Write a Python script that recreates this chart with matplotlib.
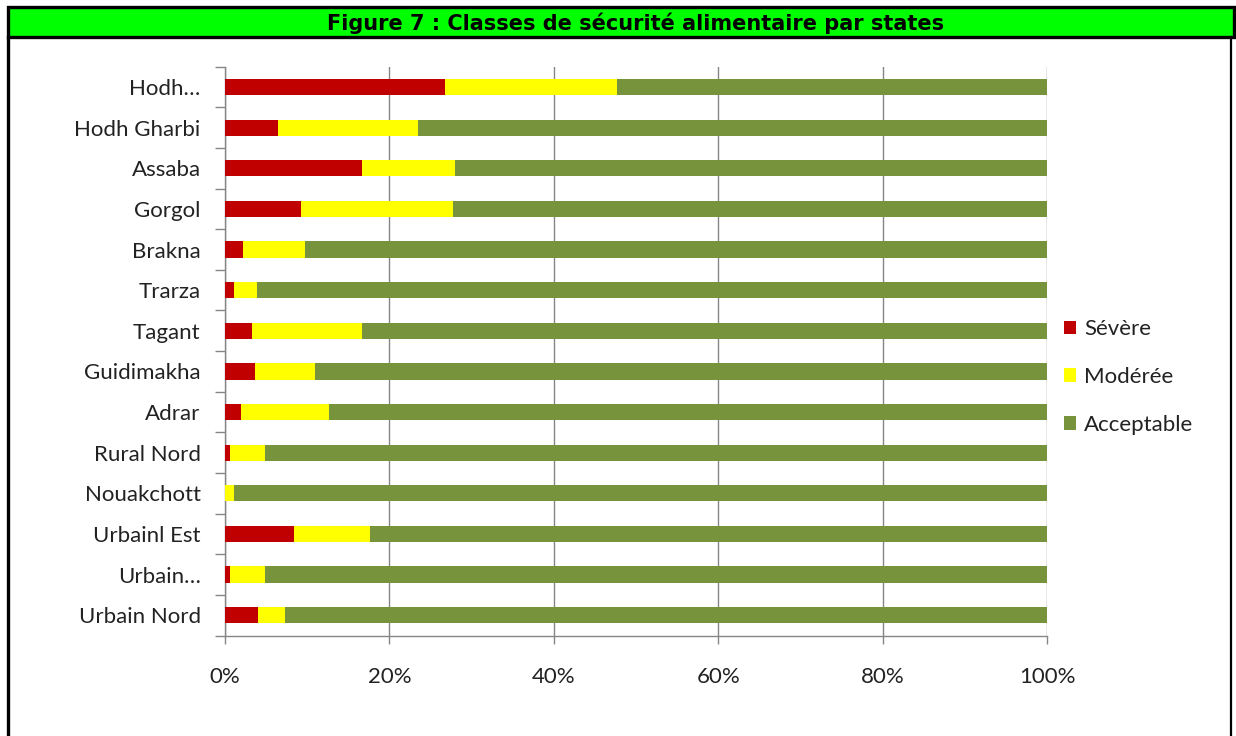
import numpy as np
import matplotlib
matplotlib.use("Agg")
import matplotlib.pyplot as plt
from matplotlib.patches import Rectangle
from matplotlib.lines import Line2D
from matplotlib.ticker import FixedLocator

plt.rcParams['font.family'] = ['Lato', 'DejaVu Sans']

# data (percent), top to bottom as in the chart
states = ["Hodh…", "Hodh Gharbi", "Assaba", "Gorgol", "Brakna", "Trarza", "Tagant",
          "Guidimakha", "Adrar", "Rural Nord", "Nouakchott", "Urbainl Est",
          "Urbain…", "Urbain Nord"]
severe = [26.8, 6.4, 16.7, 9.2, 2.2, 1.1, 3.3, 3.7, 1.9, 0.6, 0.0, 8.4, 0.6, 4.0]
moderee = [20.9, 17.1, 11.3, 18.5, 7.5, 2.8, 13.4, 7.3, 10.7, 4.3, 1.1, 9.2, 4.3, 3.3]
acceptable = [100 - s - m for s, m in zip(severe, moderee)]

W, H = 1236, 736
fig = plt.figure(figsize=(W / 100, H / 100), dpi=100)

def fx(px):
    return px / W

def fy(py):
    return 1 - py / H

ax = fig.add_axes([fx(225), fy(635.5), fx(1047) - fx(225), fy(66.7) - fy(635.5)])

y = np.arange(len(states))
sev = np.array(severe)
mod = np.array(moderee)
acc = np.array(acceptable)
h = 0.4
ax.barh(y, sev, height=h, color="#C00000", label="Sévère", zorder=3)
ax.barh(y, mod, left=sev, height=h, color="#FFFF00", label="Modérée", zorder=3)
ax.barh(y, acc, left=sev + mod, height=h, color="#77933C", label="Acceptable", zorder=3)

ax.set_ylim(len(states) - 0.5, -0.5)
ax.set_xlim(0, 100)
ax.set_yticks(y)
ax.set_yticklabels(states, fontsize=16, color="#222222")
ax.yaxis.set_minor_locator(FixedLocator(np.arange(-0.5, len(states), 1)))
ax.tick_params(axis="y", which="major", length=0, pad=17.5)
ax.tick_params(axis="y", which="minor", length=7, color="#868686", width=1)

ax.set_xticks([0, 20, 40, 60, 80, 100])
ax.set_xticklabels(["0%", "20%", "40%", "60%", "80%", "100%"], fontsize=16, color="#222222")
ax.tick_params(axis="x", length=6, color="#868686", width=1, pad=17)
ax.grid(axis="x", color="#868686", lw=1, zorder=0)

for s in ["top", "right"]:
    ax.spines[s].set_visible(False)
for s in ["left", "bottom"]:
    ax.spines[s].set_color("#868686")
    ax.spines[s].set_linewidth(1)

leg = ax.legend(loc="center left", bbox_to_anchor=(fx(1044), fy(377)),
                bbox_transform=fig.transFigure, frameon=False, fontsize=16,
                handlelength=0.55, handleheight=0.55, handletextpad=0.35,
                labelspacing=1.25)
for t in leg.get_texts():
    t.set_color("#222222")

# title bar and frame
fig.add_artist(Rectangle((fx(7.5), fy(37)), fx(1234) - fx(7.5), fy(7.5) - fy(37),
                         transform=fig.transFigure, facecolor="#00FF00",
                         edgecolor="black", lw=2.4))
fig.add_artist(Line2D([fx(8), fx(8)], [fy(37), 0], transform=fig.transFigure,
                      color="black", lw=2.4))
fig.add_artist(Line2D([fx(1231), fx(1231)], [fy(37), 0], transform=fig.transFigure,
                      color="black", lw=1.6))
fig.text(fx(636), fy(23), "Figure 7 : Classes de sécurité alimentaire par states",
         family="DejaVu Sans", fontweight="bold", fontsize=15,
         ha="center", va="center", color="black")

fig.savefig("out.png", dpi=100)
